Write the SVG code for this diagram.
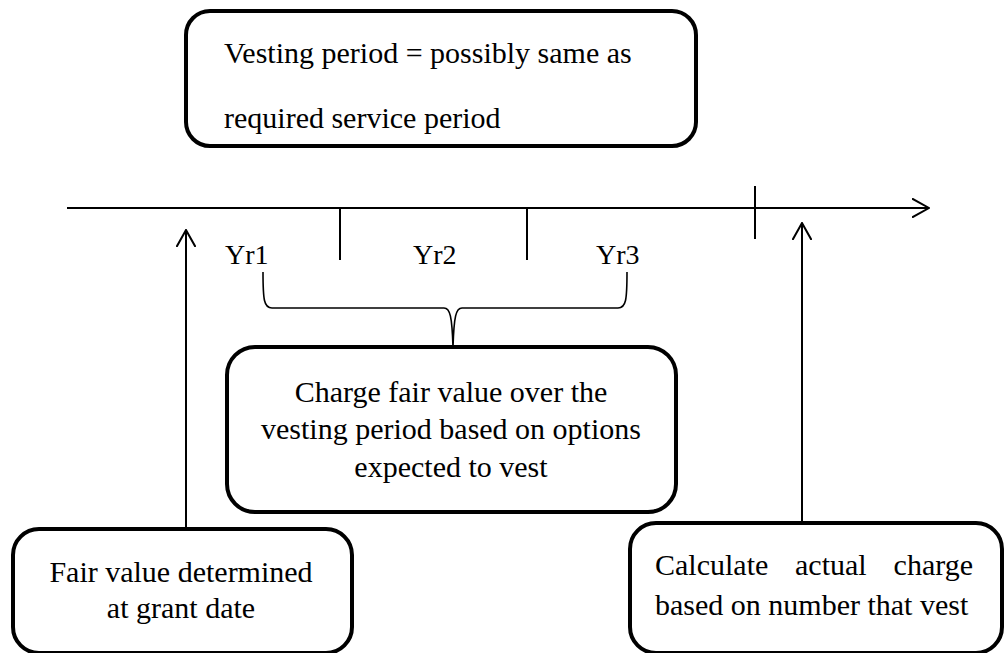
<svg xmlns="http://www.w3.org/2000/svg" width="1005" height="653" viewBox="0 0 1005 653">
  <style>
    .box { fill: #ffffff; stroke: #000000; stroke-width: 4; }
    .line { fill: none; stroke: #000000; stroke-width: 2; }
    .brace { fill: none; stroke: #000000; stroke-width: 1.6; }
    .txt { font-family: "Liberation Serif", "Times New Roman", serif; font-size: 30px; fill: #000000; }
    .yr { font-family: "Liberation Serif", "Times New Roman", serif; font-size: 28px; fill: #000000; }
  </style>
  <defs>
    <marker id="openArrow" viewBox="0 0 18 20" refX="17" refY="10" markerWidth="18" markerHeight="20" markerUnits="userSpaceOnUse" orient="auto">
      <path d="M0,0.5 L17,10 L0,19.5" fill="none" stroke="#000000" stroke-width="2"/>
    </marker>
  </defs>
  <rect width="1005" height="653" fill="#ffffff"/>

  <!-- timeline, ticks, brace and pointer arrows -->
  <g id="connectors">
    <line class="line" x1="67" y1="208" x2="929" y2="208" marker-end="url(#openArrow)"/>
    <line class="line" x1="340" y1="208" x2="340" y2="260"/>
    <line class="line" x1="527" y1="208" x2="527" y2="260"/>
    <line class="line" x1="755" y1="186" x2="755" y2="239"/>
    <line class="line" x1="186" y1="529" x2="186" y2="230" marker-end="url(#openArrow)"/>
    <line class="line" x1="802" y1="523" x2="802" y2="223" marker-end="url(#openArrow)"/>
    <path class="brace" d="M263,272 C263,300 264,308 272,308 L444,308 C450,308 452,316 453,347 C454,316 456,308 462,308 L618,308 C626,308 627,300 627,272"/>
  </g>

  <!-- year labels -->
  <g id="years">
    <text class="yr" x="225" y="264">Yr1</text>
    <text class="yr" x="413" y="264">Yr2</text>
    <text class="yr" x="596" y="264">Yr3</text>
  </g>

  <g id="vesting-period">
    <rect class="box" x="186" y="11" width="510" height="135" rx="24" ry="24"/>
    <text class="txt" x="224" y="63">Vesting period = possibly same as</text>
    <text class="txt" x="224" y="128">required service period</text>
  </g>

  <g id="charge-over-period">
    <rect class="box" x="227" y="347" width="449" height="165" rx="28" ry="28"/>
    <text class="txt" x="451" y="402" text-anchor="middle">Charge fair value over the</text>
    <text class="txt" x="451" y="439" text-anchor="middle">vesting period based on options</text>
    <text class="txt" x="451" y="477" text-anchor="middle">expected to vest</text>
  </g>

  <g id="fair-value-grant">
    <rect class="box" x="13" y="529" width="339" height="124" rx="26" ry="26"/>
    <text class="txt" x="181" y="582" text-anchor="middle">Fair value determined</text>
    <text class="txt" x="181" y="618" text-anchor="middle">at grant date</text>
  </g>

  <g id="actual-charge">
    <rect class="box" x="630" y="523" width="372" height="130" rx="26" ry="26"/>
    <text class="txt" y="575"><tspan x="655">Calculate</tspan><tspan x="795">actual</tspan><tspan x="973" text-anchor="end">charge</tspan></text>
    <text class="txt" x="655" y="615">based on number that vest</text>
  </g>
</svg>
